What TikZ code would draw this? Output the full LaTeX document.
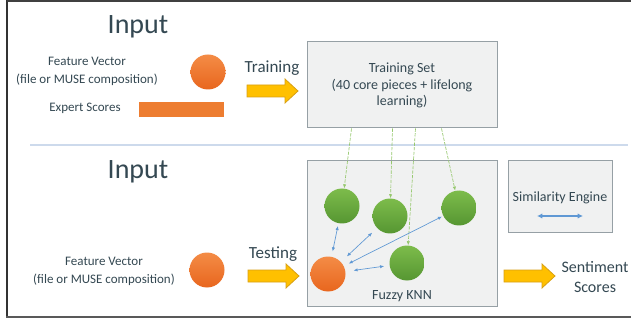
\documentclass[tikz,border=0pt]{standalone}
\usepackage{fontspec}
\setmainfont{Carlito}
\usetikzlibrary{arrows.meta,calc}
\definecolor{txt}{RGB}{52,72,82}
\definecolor{orgA}{RGB}{244,140,70}
\definecolor{orgB}{RGB}{232,102,30}
\definecolor{orgR}{RGB}{237,125,49}
\definecolor{grnA}{RGB}{125,188,75}
\definecolor{grnB}{RGB}{86,150,50}
\definecolor{yel}{RGB}{255,192,0}
\definecolor{yelD}{RGB}{216,160,20}
\definecolor{boxF}{RGB}{240,241,241}
\definecolor{boxD}{RGB}{150,160,165}
\definecolor{sepC}{RGB}{205,218,236}
\definecolor{bluL}{RGB}{95,152,212}
\definecolor{grnL}{RGB}{150,200,110}
\tikzset{
  lbl/.style={text=txt, align=center, inner sep=0pt},
  bigtxt/.style={lbl, font=\fontsize{21}{24}\selectfont},
  smtxt/.style={lbl, font=\fontsize{9.75}{13.5}\selectfont},
  midtxt/.style={lbl, font=\fontsize{12.75}{15}\selectfont},
  boxtxt/.style={lbl, font=\fontsize{10.5}{12.4}\selectfont},
  panel/.style={draw=boxD, fill=boxF, line width=0.75pt, inner sep=0pt},
  ocirc/.style={circle, minimum size=26.25pt, inner sep=0pt, top color=orgA, bottom color=orgB},
  gcirc/.style={circle, minimum size=26.25pt, inner sep=0pt, top color=grnA, bottom color=grnB},
  feed/.style={draw=grnL, line width=0.5pt, dash pattern=on 2.5pt off 1pt, -{Latex[length=3pt,width=2.5pt]}},
  simil/.style={draw=bluL, line width=0.5pt, {Latex[length=3pt,width=2.5pt]}-{Latex[length=3pt,width=2.5pt]}, shorten >=2pt, shorten <=4pt},
  yarrow/.pic={\path[fill=yel, draw=yelD, line width=0.6pt] (0,-6) -- (38,-6) -- (38,-12) -- (51,0) -- (38,12) -- (38,6) -- (0,6) -- cycle;}
}
\begin{document}
\begin{tikzpicture}[x=0.75pt,y=-0.75pt]
\useasboundingbox (0,0) rectangle (631,320);
\fill[white] (0,0) rectangle (631,320);
% frame
\draw[black!80, line width=1pt] (7,0) -- (7,317);
\draw[black!75, line width=1.3pt] (7,1) -- (631,1);
\draw[black!65, line width=2.2pt] (6,317) -- (631,317);
% separator
\draw[sepC, line width=1.2pt] (30,145) -- (628,145);

% top half
\node[bigtxt] (in1) at (138,27) {Input};
\node[smtxt] (fv1) at (87,71) {Feature Vector\\(file or MUSE composition)};
\node[ocirc] (c1) at (208,72) {};
\node[smtxt] (es) at (85,108) {Expert Scores};
\node[fill=orgR, minimum width=63.75pt, minimum height=11.25pt, inner sep=0pt] (er) at (181.5,109.5) {};
\node[midtxt] (tr) at (272,68) {Training};
\pic at (247,91) {yarrow};
\node[panel, minimum width=142.5pt, minimum height=64.5pt] (ts) at (402,85) {};
\node[boxtxt] (tst) at (402,85.5) {Training Set\\(40 core pieces + lifelong\\learning)};

% bottom half
\node[bigtxt] (in2) at (138,172) {Input};
\node[smtxt] (fv2) at (104,271.5) {Feature Vector\\(file or MUSE composition)};
\node[ocirc] (c2) at (207,270) {};
\node[midtxt] (te) at (273,254) {Testing};
\pic at (248,276) {yarrow};
\node[panel, minimum width=142.5pt, minimum height=108.75pt] (knn) at (402,233.5) {};
\node[boxtxt] (knnt) at (402,296) {Fuzzy KNN};
\node[gcirc] (g1) at (342,206) {};
\node[gcirc] (g2) at (390,216) {};
\node[gcirc] (g3) at (459,208) {};
\node[gcirc] (g4) at (407,263) {};
\node[ocirc] (o) at (328,274) {};

% similarity engine
\node[panel, minimum width=78pt, minimum height=54pt] (sim) at (560,197) {};
\node[boxtxt] (simt) at (560,198) {Similarity Engine};
\coordinate (sa) at (537,216);
\coordinate (sb) at (583,216);
\draw[draw=bluL, line width=1.3pt, {Latex[length=4pt,width=4pt]}-{Latex[length=4pt,width=4pt]}] (sa) -- (sb);

% output
\pic at (504,276) {yarrow};
\node[lbl, font=\fontsize{12}{15}\selectfont] (sent) at (595,277) {Sentiment\\Scores};

% feed connectors from training set
\draw[feed] ($(ts.south west)+(45,0)$) -- (g1);
\draw[feed] ($(ts.south west)+(86,0)$) -- (g2);
\draw[feed] ($(ts.south west)+(109,0)$) -- (g4);
\draw[feed] ($(ts.south west)+(135,0)$) -- (g3);

% similarity connectors
\draw[simil] (o) -- (g1);
\draw[simil, shorten <=6pt, shorten >=5pt] (o) -- (g2);
\draw[simil, shorten <=4pt, shorten >=1pt] (o) -- (g3);
\draw[simil, shorten <=6pt, shorten >=4pt] (o) -- (g4);
\end{tikzpicture}
\end{document}
